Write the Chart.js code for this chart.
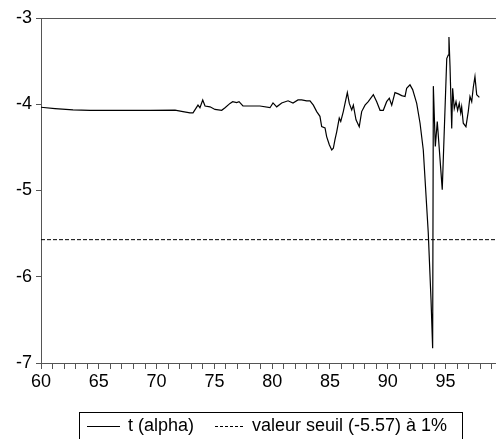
<!DOCTYPE html>
<html>
<head>
<meta charset="utf-8">
<script src="https://cdn.jsdelivr.net/npm/chart.js@4/dist/chart.umd.min.js"></script>
<style>
  html, body { margin: 0; padding: 0; background: #ffffff; }
  #wrap { width: 496px; height: 439px; }
</style>
</head>
<body>
<div id="wrap"><canvas id="c" width="496" height="439"></canvas></div>
<script>
// ---- data ----
const years = [
  60.00, 61.21, 62.77, 64.24, 66.83, 69.43, 71.59, 72.28, 72.89, 73.15,
  73.58, 73.75, 73.99, 74.19, 74.62, 75.05, 75.63, 75.92, 76.35, 76.58,
  76.93, 77.13, 77.47, 78.08, 78.94, 79.81, 80.07, 80.39, 80.82, 81.37,
  81.80, 82.23, 82.55, 82.98, 83.27, 83.56, 83.85, 84.13, 84.28, 84.57,
  84.71, 84.94, 85.15, 85.29, 85.43, 85.58, 85.80, 85.93, 86.15, 86.30,
  86.50, 86.67, 86.88, 87.02, 87.25, 87.53, 87.74, 88.03, 88.31, 88.75,
  89.04, 89.33, 89.61, 89.90, 90.13, 90.34, 90.62, 90.91, 91.20, 91.49,
  91.63, 91.92, 92.15, 92.50, 92.79, 93.07, 93.50, 93.74, 93.88, 93.94,
  94.11, 94.28, 94.71, 95.10, 95.23, 95.29, 95.38, 95.53, 95.61, 95.75,
  95.90, 96.04, 96.18, 96.31, 96.39, 96.53, 96.76, 96.96, 97.11, 97.26,
  97.40, 97.54, 97.69, 97.92
];
const tAlpha = [
  -4.035, -4.05, -4.066, -4.07, -4.072, -4.07, -4.068, -4.085, -4.10, -4.10,
  -4.01, -4.04, -3.95, -4.02, -4.03, -4.06, -4.07, -4.04, -3.99, -3.97,
  -3.98, -3.97, -4.02, -4.02, -4.02, -4.04, -3.985, -4.03, -3.985, -3.96,
  -3.985, -3.95, -3.95, -3.96, -3.96, -4.01, -4.085, -4.14, -4.26, -4.275,
  -4.375, -4.47, -4.53, -4.51, -4.41, -4.32, -4.16, -4.20, -4.085, -3.99,
  -3.865, -3.99, -4.066, -4.01, -4.18, -4.26, -4.085, -4.01, -3.97, -3.89,
  -3.97, -4.07, -4.07, -3.97, -3.93, -4.01, -3.865, -3.88, -3.90, -3.91,
  -3.815, -3.775, -3.83, -3.99, -4.22, -4.53, -5.49, -6.27, -6.83, -3.79,
  -4.49, -4.20, -4.99, -3.47, -3.43, -3.22, -3.55, -4.28, -3.815, -4.05,
  -3.97, -4.07, -3.99, -4.10, -4.03, -4.22, -4.26, -4.085, -3.91, -3.97,
  -3.80, -3.68, -3.89, -3.92
];
const thresholdValue = -5.57;
const xRange = [60, 99.36];
const yRange = [-7, -3];
const seriesLabels = ["t (alpha)", "valeur seuil (-5.57) à 1%"];

const FONT = "'Liberation Sans', Arial, sans-serif";

const topLine = {
  id: 'topLine',
  afterDraw(chart) {
    const {ctx, chartArea} = chart;
    ctx.save();
    ctx.strokeStyle = '#555';
    ctx.lineWidth = 1;
    ctx.beginPath();
    ctx.moveTo(chartArea.left, chartArea.top + 0.5);
    ctx.lineTo(chartArea.right, chartArea.top + 0.5);
    ctx.stroke();
    ctx.restore();
  }
};

const boxLegend = {
  id: 'boxLegend',
  afterDraw(chart) {
    const ctx = chart.ctx;
    const ds = chart.data.datasets;
    ctx.save();
    ctx.strokeStyle = '#000';
    ctx.lineWidth = 1;
    ctx.strokeRect(79.5, 412.5, 383, 40);
    ctx.font = "18px " + FONT;
    ctx.fillStyle = '#000';
    ctx.textBaseline = 'middle';
    const y = 426;
    // solid sample
    ctx.beginPath();
    ctx.setLineDash([]);
    ctx.moveTo(87, y + 0.5); ctx.lineTo(120, y + 0.5);
    ctx.stroke();
    ctx.fillText(ds[0].label, 128, y);
    // dashed sample
    ctx.beginPath();
    ctx.setLineDash([3, 2]);
    ctx.moveTo(215, y + 0.5); ctx.lineTo(245, y + 0.5);
    ctx.stroke();
    ctx.setLineDash([]);
    ctx.fillText(ds[1].label, 252, y);
    ctx.restore();
  }
};

new Chart(document.getElementById('c'), {
  type: 'line',
  data: {
    datasets: [
      {
        label: seriesLabels[0],
        data: years.map((x, i) => ({x: x, y: tAlpha[i]})),
        borderColor: '#000',
        borderWidth: 1.2,
        pointRadius: 0,
        tension: 0,
        fill: false
      },
      {
        label: seriesLabels[1],
        data: [{x: xRange[0], y: thresholdValue}, {x: xRange[1], y: thresholdValue}],
        borderColor: '#000',
        borderWidth: 1,
        borderDash: [4, 2],
        pointRadius: 0,
        fill: false
      }
    ]
  },
  options: {
    responsive: false,
    animation: false,
    devicePixelRatio: 1,
    layout: { padding: { top: 18, right: 0, bottom: 0, left: 0 } },
    plugins: { legend: { display: false }, tooltip: { enabled: false } },
    scales: {
      x: {
        type: 'linear',
        min: xRange[0],
        max: xRange[1],
        afterFit(scale) { scale.height = 76; },
        border: { display: true, color: '#555', width: 1 },
        grid: { drawOnChartArea: false, drawTicks: true, tickLength: 6, color: '#555' },
        ticks: {
          stepSize: 1,
          autoSkip: false,
          includeBounds: false,
          maxRotation: 0,
          padding: 2,
          color: '#000',
          font: { family: FONT, size: 18 },
          callback: v => (v % 5 === 0 ? String(v) : '')
        }
      },
      y: {
        type: 'linear',
        min: yRange[0],
        max: yRange[1],
        afterFit(scale) { scale.width = 41; },
        border: { display: true, color: '#555', width: 1 },
        grid: { drawOnChartArea: false, drawTicks: true, tickLength: 5, color: '#555' },
        ticks: {
          stepSize: 1,
          padding: 4,
          color: '#000',
          font: { family: FONT, size: 18 },
          callback: v => String(v)
        }
      }
    }
  },
  plugins: [topLine, boxLegend]
});
</script>
</body>
</html>
